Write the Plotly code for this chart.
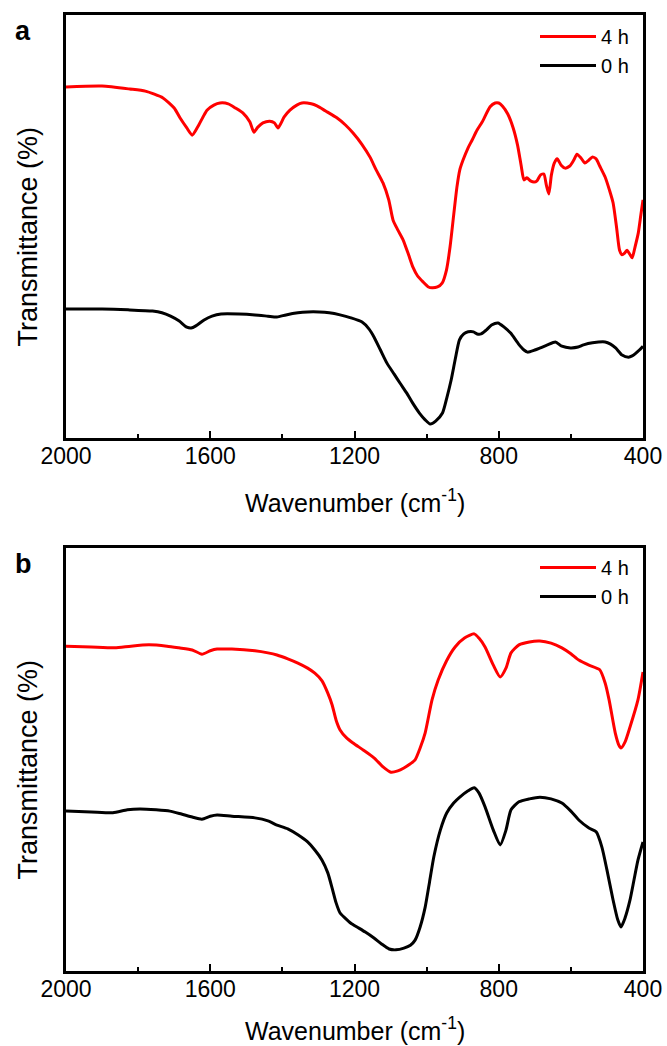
import plotly.graph_objects as go

FONT = "Liberation Sans, Arial, sans-serif"

# ---------------- data ----------------
tick_vals = [2000, 1600, 1200, 800, 400]
minor_vals = [1800, 1400, 1000, 600]

# Panel a, 4 h (red)
a4_wn = [2000, 1900, 1823, 1780, 1731, 1700, 1684, 1665, 1650, 1635, 1620, 1609, 1590, 1573, 1550,
         1530, 1509, 1490, 1479, 1468, 1454, 1435, 1422, 1412, 1395, 1379, 1360, 1346, 1320, 1304,
         1280, 1249, 1225, 1204, 1180, 1157, 1140, 1121, 1105, 1093, 1080, 1065, 1050, 1038, 1025,
         1010, 995, 985, 970, 957, 945, 935, 925, 916, 908, 899, 885, 874, 860, 846, 824, 810, 800,
         790, 775, 760, 748, 738, 730, 722, 712, 702, 694, 684, 675, 668, 661, 654, 646, 638, 627,
         616, 603, 592, 583, 572, 561, 550, 541, 530, 520, 505, 493, 483, 473, 465, 458, 451, 444,
         437, 430, 422, 413, 406, 400]
a4_t = [83.0, 83.2, 82.5, 82.0, 80.4, 78.0, 75.7, 73.3, 71.6, 73.5, 75.9, 77.5, 78.7, 79.2, 79.0,
        78.0, 76.8, 74.7, 72.3, 73.5, 74.5, 74.9, 74.5, 73.3, 75.9, 77.5, 78.7, 79.2, 79.0, 78.5,
        77.3, 75.7, 74.0, 72.1, 69.5, 66.4, 63.4, 60.3, 56.3, 51.5, 49.2, 46.8, 43.3, 40.4, 38.3,
        36.9, 35.7, 35.5, 35.7, 36.6, 39.7, 45.2, 52.7, 59.3, 63.4, 65.7, 68.6, 70.4, 72.8, 74.7,
        78.3, 79.2, 79.2, 78.5, 76.6, 73.3, 69.3, 64.5, 61.0, 61.5, 60.8, 60.5, 60.8, 62.2, 62.4,
        59.8, 57.7, 62.2, 65.0, 66.0, 64.5, 63.8, 64.3, 65.7, 67.1, 66.2, 65.0, 65.7, 66.4, 66.0,
        64.3, 61.7, 58.6, 55.6, 49.6, 44.4, 43.3, 43.7, 44.4, 43.5, 42.6, 45.2, 48.5, 52.7, 56.3]

# Panel a, 0 h (black)
a0_wn = [2000, 1900, 1828, 1760, 1734, 1710, 1687, 1665, 1653, 1640, 1617, 1595, 1570, 1520, 1476,
         1440, 1415, 1390, 1357, 1330, 1298, 1270, 1240, 1210, 1179, 1160, 1146, 1128, 1110, 1090,
         1074, 1055, 1039, 1020, 1004, 990, 975, 956, 944, 932, 920, 909, 897, 885, 870, 860, 849,
         835, 820, 802, 785, 767, 745, 730, 720, 700, 685, 665, 643, 625, 601, 580, 565, 540, 505,
         490, 476, 458, 440, 430, 422, 410, 400]
a0_t = [30.5, 30.5, 30.3, 30.0, 29.6, 28.8, 27.7, 26.2, 26.0, 26.5, 27.9, 28.8, 29.3, 29.3, 29.1,
        28.8, 28.6, 29.1, 29.6, 29.8, 29.8, 29.6, 29.1, 28.4, 27.4, 25.8, 23.9, 20.8, 17.7, 15.1,
        13.0, 10.6, 8.3, 5.9, 4.3, 3.3, 4.0, 5.9, 9.5, 13.7, 18.9, 23.2, 24.6, 25.1, 25.1, 24.6, 24.6,
        25.5, 26.7, 27.2, 26.2, 24.8, 22.2, 20.8, 20.3, 20.8, 21.3, 22.0, 22.7, 21.7, 21.3, 21.5,
        22.0, 22.5, 22.7, 22.2, 21.3, 19.6, 19.1, 19.4, 19.9, 20.8, 21.7]

# Panel b, 4 h (red)
b4_wn = [2000, 1930, 1865, 1820, 1770, 1720, 1687, 1650, 1623, 1600, 1581, 1540, 1476, 1440, 1415,
         1385, 1357, 1330, 1310, 1290, 1274, 1262, 1251, 1240, 1222, 1204, 1175, 1146, 1120, 1099,
         1080, 1063, 1045, 1032, 1018, 1004, 985, 968, 945, 921, 895, 868, 855, 838, 815, 796, 780,
         766, 744, 715, 686, 655, 625, 600, 578, 550, 520, 505, 494, 477, 467, 461, 450, 436, 414, 400]
b4_t = [76.8, 76.6, 76.4, 76.8, 77.1, 76.8, 76.4, 75.9, 74.9, 75.7, 76.1, 76.1, 75.7, 75.2, 74.7,
        73.8, 72.8, 71.6, 70.4, 68.6, 65.7, 62.9, 59.3, 57.0, 55.1, 53.9, 52.2, 50.4, 48.2, 47.0,
        47.3, 48.0, 49.0, 49.9, 52.7, 56.3, 64.1, 68.8, 73.3, 76.6, 78.7, 79.7, 78.7, 76.6, 72.3,
        69.5, 71.6, 75.2, 77.1, 77.8, 78.0, 77.5, 76.4, 75.0, 73.5, 72.3, 71.2, 68.1, 64.1, 56.3,
        53.4, 52.7, 54.1, 57.7, 64.1, 70.7]

# Panel b, 0 h (black)
b0_wn = [2000, 1930, 1870, 1830, 1795, 1750, 1712, 1680, 1650, 1623, 1600, 1581, 1540, 1476, 1440,
         1415, 1385, 1357, 1330, 1310, 1290, 1274, 1262, 1251, 1240, 1226, 1210, 1193, 1170, 1146,
         1125, 1104, 1085, 1063, 1045, 1032, 1018, 1004, 992, 980, 962, 944, 925, 908, 885, 868, 855,
         838, 815, 796, 780, 766, 744, 715, 686, 655, 625, 600, 578, 550, 530, 514, 500, 483, 470,
         461, 450, 436, 425, 414, 400]
b0_t = [37.8, 37.6, 37.4, 38.1, 38.3, 38.1, 37.8, 37.1, 36.4, 35.9, 36.6, 36.9, 36.6, 36.2, 35.5,
        34.5, 33.6, 32.2, 30.5, 28.6, 26.2, 23.2, 19.6, 16.1, 13.7, 12.5, 11.3, 10.4, 9.2, 7.8,
        6.4, 5.2, 5.0, 5.4, 6.1, 7.3, 10.4, 15.1, 21.0, 27.0, 33.3, 37.4, 39.7, 41.1, 42.6, 43.3,
        42.1, 38.8, 33.3, 29.8, 33.3, 38.1, 40.0, 40.7, 41.1, 40.7, 39.7, 37.8, 35.7, 33.8, 32.9,
        29.3, 23.9, 16.8, 12.1, 10.4, 12.5, 16.8, 21.5, 26.2, 30.5]

series_names = ["4 h", "0 h"]
series_colors = ["#ff0000", "#000000"]

# ---------------- figure ----------------
W, H = 667, 1046
fig = go.Figure()

panels = [
    ("x", "y", "legend", [(a4_wn, a4_t), (a0_wn, a0_t)]),
    ("x2", "y2", "legend2", [(b4_wn, b4_t), (b0_wn, b0_t)]),
]
for xa, ya, lg, data in panels:
    for i, (wn, t) in enumerate(data):
        fig.add_trace(go.Scatter(
            x=wn, y=t, mode="lines", name=series_names[i],
            line=dict(color=series_colors[i], width=3, shape="spline", smoothing=0.6),
            xaxis=xa, yaxis=ya, legend=lg, legendgroup=f"{lg}{i}",
        ))

def px_x(p):
    return p / W

def px_y(p):
    return 1 - p / H

xdom = [px_x(66), px_x(643)]
ya_dom = [px_y(438), px_y(15)]
yb_dom = [px_y(971), px_y(548)]

xaxis_common = dict(
    range=[2000, 400], domain=xdom, automargin=False,
    tickmode="array", tickvals=tick_vals, ticktext=[str(v) for v in tick_vals],
    ticks="inside", ticklen=7, tickwidth=2, tickcolor="black",
    ticklabelstandoff=-5,
    minor=dict(tickmode="array", tickvals=minor_vals, ticks="inside", ticklen=4,
               tickwidth=2, tickcolor="black"),
    showline=True, linewidth=3, linecolor="black", mirror=True,
    showgrid=False, zeroline=False,
    tickfont=dict(family=FONT, size=23, color="black"),
)
yaxis_common = dict(
    range=[0, 100], showticklabels=False, ticks="", automargin=False,
    showline=True, linewidth=3, linecolor="black", mirror=True,
    showgrid=False, zeroline=False,
)

legend_common = dict(
    x=px_x(634), xanchor="right", yanchor="top",
    font=dict(family=FONT, size=20, color="black"),
    bgcolor="rgba(0,0,0,0)", borderwidth=0,
    tracegroupgap=0, itemwidth=56,
)

fig.update_layout(
    template="none",
    width=W, height=H, autosize=False,
    margin=dict(l=0, r=0, t=0, b=0, pad=0, autoexpand=False),
    paper_bgcolor="white", plot_bgcolor="white",
    font=dict(family=FONT, color="black"),
    xaxis=dict(**xaxis_common, anchor="y"),
    yaxis=dict(**yaxis_common, domain=ya_dom, anchor="x"),
    xaxis2=dict(**xaxis_common, anchor="y2"),
    yaxis2=dict(**yaxis_common, domain=yb_dom, anchor="x2"),
    legend=dict(**legend_common, y=px_y(17)),
    legend2=dict(**legend_common, y=px_y(548)),
    showlegend=True,
)

xtitle = "Wavenumber (cm<sup>-1</sup>)"
ann = []
for label, top, bottom, tbottom in [("a", 15, 438, 518), ("b", 548, 971, 1046)]:
    ann.append(dict(text=f"<b>{label}</b>", x=px_x(23), y=px_y(top + 16),
                    xref="paper", yref="paper", showarrow=False,
                    font=dict(family=FONT, size=27, color="black"),
                    xanchor="center", yanchor="middle"))
    ann.append(dict(text=xtitle, x=px_x(355), y=px_y(tbottom),
                    xref="paper", yref="paper", showarrow=False, borderpad=0,
                    font=dict(family=FONT, size=25, color="black"),
                    xanchor="center", yanchor="bottom"))
    ann.append(dict(text="Transmittance (%)", x=px_x(27), y=px_y((top + bottom) / 2 + 10),
                    xref="paper", yref="paper", showarrow=False, textangle=-90,
                    font=dict(family=FONT, size=27, color="black"),
                    xanchor="center", yanchor="middle"))
fig.update_layout(annotations=ann)

fig.write_html(
    "out.html",
    config={"displayModeBar": False},
    post_script="document.body.style.margin='0';document.body.style.overflow='hidden';",
)
